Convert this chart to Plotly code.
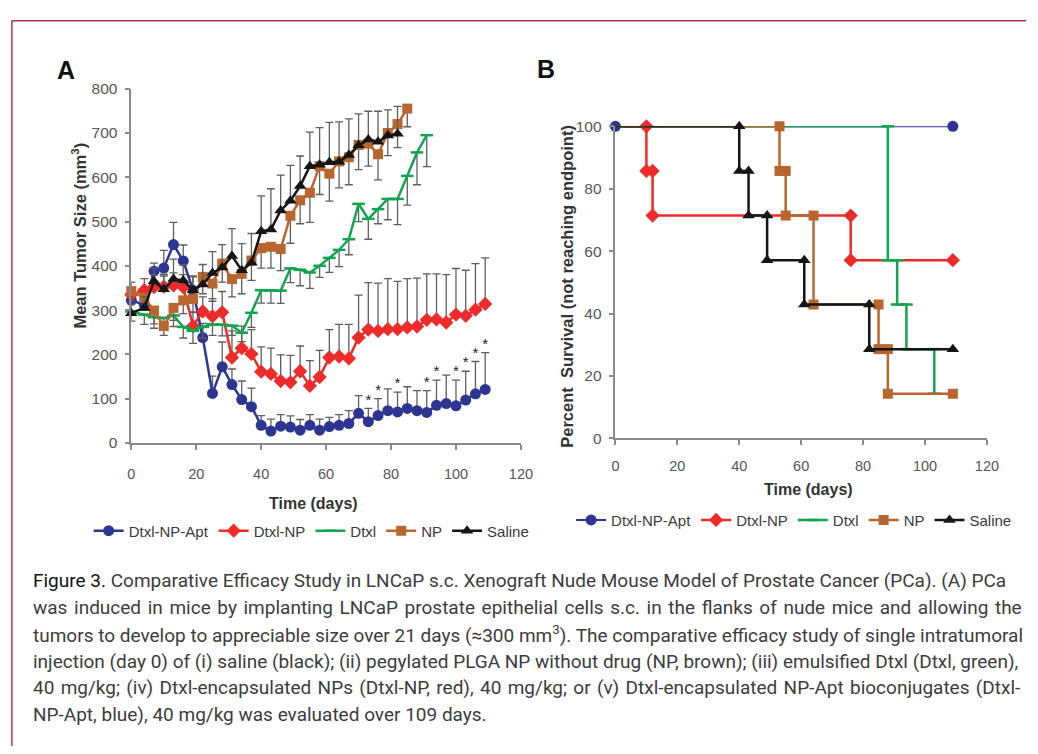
import plotly.graph_objects as go

W, H = 1038, 754

# ---------------- Panel A data (tumour size) ----------------
days = [0, 4, 7, 10, 13, 16, 19, 22, 25, 28, 31, 34, 37, 40, 43, 46, 49, 52, 55, 58,
        61, 64, 67, 70, 73, 76, 79, 82, 85, 88, 91, 94, 97, 100, 103, 106, 109]

apt_mean = [322, 312, 388, 395, 448, 411, 345, 238, 112, 172, 132, 98, 82, 40, 27, 38, 36, 29, 40, 29,
            37, 40, 44, 67, 48, 62, 73, 70, 78, 73, 69, 85, 89, 84, 97, 111, 121]
apt_err = [20, 18, 18, 40, 50, 36, 30, 32, 39, 56, 35, 42, 42, 22, 27, 26, 25, 24, 24, 25,
           21, 24, 29, 40, 30, 38, 49, 45, 49, 45, 49, 57, 64, 58, 65, 73, 83]

red_mean = [335, 345, 352, 353, 356, 352, 264, 297, 286, 295, 193, 214, 201, 161, 156, 140, 137, 162, 129, 149,
            193, 195, 191, 238, 256, 253, 257, 257, 261, 263, 278, 279, 272, 290, 287, 301, 314]
red_err = [28, 26, 28, 28, 28, 28, 32, 33, 40, 47, 60, 50, 55, 56, 58, 59, 61, 57, 57, 60,
           63, 73, 77, 96, 106, 108, 114, 108, 110, 109, 104, 103, 108, 104, 103, 104, 104]

dtxl_mean = [297, 290, 284, 282, 288, 262, 253, 262, 268, 267, 265, 249, 294, 345, 345, 344, 394, 391, 385, 400,
             418, 436, 460, 540, 506, 528, 551, 551, 603, 656, 695]
dtxl_err = [22, 22, 25, 22, 25, 25, 28, 25, 25, 25, 22, 20, 33, 29, 29, 29, 32, 36, 36, 26,
            33, 38, 35, 40, 46, 33, 47, 58, 66, 73, 71]

np_mean = [343, 328, 299, 264, 305, 322, 325, 375, 360, 405, 370, 382, 412, 440, 443, 438, 513, 548, 565, 625,
           608, 636, 645, 673, 676, 652, 700, 720, 755]
np_err = [30, 28, 30, 21, 28, 30, 30, 38, 40, 42, 40, 45, 45, 45, 48, 49, 62, 53, 67, 64,
          62, 60, 62, 56, 51, 58, 51, 53, 41]

sal_mean = [293, 305, 365, 347, 370, 367, 345, 358, 384, 396, 422, 390, 407, 478, 482, 525, 547, 580, 625, 628,
            634, 635, 650, 672, 685, 680, 694, 698]
sal_err = [28, 25, 30, 30, 45, 35, 32, 45, 48, 52, 62, 60, 66, 80, 92, 80, 80, 68, 77, 84,
           90, 90, 82, 71, 64, 69, 58, 62]

star_days = [73, 76, 82, 91, 94, 100, 103, 106, 109]

# ---------------- Panel B data (survival, %) ----------------
surv_apt_x = [0, 109]
surv_apt_y = [100, 100]
surv_red_x = [0, 10, 10, 12, 12, 76, 76, 109]
surv_red_y = [100, 100, 85.7, 85.7, 71.4, 71.4, 57.1, 57.1]
surv_dtxl_x = [0, 88, 88, 91, 91, 94, 94, 103, 103]
surv_dtxl_y = [100, 100, 57.1, 57.1, 42.9, 42.9, 28.6, 28.6, 14.3]
surv_np_x = [0, 53, 53, 55, 55, 64, 64, 85, 85, 88, 88, 109]
surv_np_y = [100, 100, 85.7, 85.7, 71.4, 71.4, 42.9, 42.9, 28.6, 28.6, 14.3, 14.3]
surv_sal_x = [0, 40, 40, 43, 43, 49, 49, 61, 61, 82, 82, 109]
surv_sal_y = [100, 100, 85.7, 85.7, 71.4, 71.4, 57.1, 57.1, 42.9, 42.9, 28.6, 28.6]

names = ["Dtxl-NP-Apt", "Dtxl-NP", "Dtxl", "NP", "Saline"]
x_ticks = [0, 20, 40, 60, 80, 100, 120]
yA_ticks = [0, 100, 200, 300, 400, 500, 600, 700, 800]
yB_ticks = [0, 20, 40, 60, 80, 100]

caption_head = "Figure 3."
caption_lines = [
    " Comparative Efficacy Study in LNCaP s.c. Xenograft Nude Mouse Model of Prostate Cancer (PCa). (A) PCa",
    "was induced in mice by implanting LNCaP prostate epithelial cells s.c. in the flanks of nude mice and allowing the",
    "tumors to develop to appreciable size over 21 days (\u2248300 mm<sup>3</sup>). The comparative efficacy study of single intratumoral",
    "injection (day 0) of (i) saline (black); (ii) pegylated PLGA NP without drug (NP, brown); (iii) emulsified Dtxl (Dtxl, green),",
    "40 mg/kg; (iv) Dtxl-encapsulated NPs (Dtxl-NP, red), 40 mg/kg; or (v) Dtxl-encapsulated NP-Apt bioconjugates (Dtxl-",
    "NP-Apt, blue), 40 mg/kg was evaluated over 109 days.",
]
# extra word spacing (px) used to justify each caption line
caption_wordspace = [0, 1.9, 0, 0, 1.6, 0]

# ---------------- styles ----------------
C_APT, C_RED, C_DTXL, C_NP, C_SAL = "#2c3592", "#ee2b2b", "#12a550", "#b9652e", "#151515"
FONT = "Arial, Liberation Sans, sans-serif"
ERRC = "#5e5e5e"

fig = go.Figure()

def err(arr_plus, arr_minus):
    return dict(type="data", symmetric=False, array=arr_plus, arrayminus=arr_minus,
                color=ERRC, thickness=1.3, width=4)

seriesA = [
    (apt_mean, apt_err, True, C_APT, dict(symbol="circle", size=11, color=C_APT)),
    (red_mean, red_err, True, C_RED, dict(symbol="diamond", size=11, color=C_RED)),
    (dtxl_mean, dtxl_err, False, C_DTXL, dict(symbol="line-ew", size=9, color=C_DTXL,
                                             line=dict(color=C_DTXL, width=2.5))),
    (np_mean, np_err, False, C_NP, dict(symbol="square", size=10, color=C_NP)),
    (sal_mean, sal_err, True, C_SAL, dict(symbol="triangle-up", size=11, color=C_SAL)),
]
for name, (m, e, up, col, mk) in zip(names, seriesA):
    n = len(m)
    zeros = [0] * n
    fig.add_trace(go.Scatter(
        x=days[:n], y=m, mode="lines+markers", name=name,
        line=dict(color=col, width=2.5), marker=mk,
        error_y=err(e, zeros) if up else err(zeros, e),
        xaxis="x", yaxis="y", legend="legend", cliponaxis=False))

star_y = [apt_mean[days.index(d)] + apt_err[days.index(d)] for d in star_days]
fig.add_trace(go.Scatter(
    x=star_days, y=star_y, mode="text", text=["*"] * len(star_days),
    textposition="top center", textfont=dict(size=15, color="#222", family=FONT),
    showlegend=False, xaxis="x", yaxis="y", cliponaxis=False))

seriesB = [
    (surv_apt_x, surv_apt_y, C_APT, dict(symbol="circle", size=11, color=C_APT)),
    (surv_red_x, surv_red_y, C_RED, dict(symbol="diamond", size=11, color=C_RED)),
    (surv_dtxl_x, surv_dtxl_y, C_DTXL, dict(symbol="line-ew", size=9, color=C_DTXL,
                                           line=dict(color=C_DTXL, width=2.5))),
    (surv_np_x, surv_np_y, C_NP, dict(symbol="square", size=10, color=C_NP)),
    (surv_sal_x, surv_sal_y, C_SAL, dict(symbol="triangle-up", size=11, color=C_SAL)),
]
for i, (name, (xs, ys, col, mk)) in enumerate(zip(names, seriesB)):
    extra = {}
    if i > 0:  # the day-0 point sits under the blue start marker: hide its marker
        extra = dict(selectedpoints=list(range(1, len(xs))),
                     selected=dict(marker=dict(opacity=1)),
                     unselected=dict(marker=dict(opacity=0)))
    fig.add_trace(go.Scatter(
        x=xs, y=ys, mode="lines+markers", name=name,
        line=dict(color=col, width=2.5 if i else 2), marker=mk,
        xaxis="x2", yaxis="y2", legend="legend2", cliponaxis=False, **extra))

axis_common = dict(showline=True, linecolor="#8a8a8a", linewidth=1.5, ticks="outside",
                   ticklen=5, tickwidth=1.5, tickcolor="#8a8a8a", showgrid=False, zeroline=False,
                   fixedrange=True)

def px_x(p):
    return p / W

def px_y(p):
    return 1 - p / H

fig.update_layout(
    width=W, height=H, autosize=False,
    margin=dict(l=0, r=0, t=0, b=0),
    paper_bgcolor="white", plot_bgcolor="white",
    font=dict(family=FONT, color="#444"),
    xaxis=dict(domain=[px_x(129.3), px_x(525)], range=[0, 120], tickvals=x_ticks, anchor="y",
               tickfont=dict(size=14.5, color="#555"), ticklabelstandoff=12, **axis_common),
    yaxis=dict(domain=[px_y(444), px_y(81.5)], range=[0, 800], tickvals=yA_ticks, anchor="x",
               tickfont=dict(size=15.5, color="#555"), ticklabelstandoff=4, **axis_common),
    xaxis2=dict(domain=[px_x(621), px_x(998.3)], range=[0, 120], tickvals=x_ticks, anchor="y2",
                tickfont=dict(size=14.5, color="#555"), ticklabelstandoff=8, **axis_common),
    yaxis2=dict(domain=[px_y(439.3), px_y(120)], range=[0, 100], tickvals=yB_ticks, anchor="x2",
                tickfont=dict(size=15.5, color="#555"), ticklabelstandoff=4, **axis_common),
    legend=dict(orientation="h", x=px_x(86), xanchor="left", y=px_y(534), yanchor="middle",
                font=dict(size=15, color="#3a3a3a", family=FONT), bgcolor="rgba(0,0,0,0)",
                itemwidth=30, traceorder="normal"),
    legend2=dict(orientation="h", x=px_x(576), xanchor="left", y=px_y(523), yanchor="middle",
                 font=dict(size=15, color="#3a3a3a", family=FONT), bgcolor="rgba(0,0,0,0)",
                 itemwidth=30, traceorder="normal"),
    showlegend=True,
)

ann = [
    dict(text="<b>A</b>", x=px_x(63), y=px_y(62), font=dict(size=25, color="#111")),
    dict(text="<b>B</b>", x=px_x(550), y=px_y(61), font=dict(size=25, color="#111")),
    dict(text="<b>Time (days)</b>", x=px_x(314), y=px_y(506), font=dict(size=16, color="#333")),
    dict(text="<b>Time (days)</b>", x=px_x(817), y=px_y(492), font=dict(size=16, color="#333")),
    dict(text="<b>Mean Tumor Size (mm<sup>3</sup>)</b>", x=px_x(76), y=px_y(232), textangle=-90,
         font=dict(size=16.5, color="#333")),
    dict(text="<b>Percent\u00a0\u00a0Survival (not reaching endpoint)</b>", x=px_x(571), y=px_y(284),
         textangle=-90, font=dict(size=16.5, color="#333")),
]
for a in ann:
    a.update(xref="paper", yref="paper", showarrow=False, xanchor="center", yanchor="middle")
    fig.add_annotation(**a)

CAP_FONT = "Liberation Sans Narrow, Arial Narrow, Roboto, sans-serif"
cap_y = [585, 612.4, 639.8, 667.2, 694.6, 722]
for k, (txt, yy, ws) in enumerate(zip(caption_lines, cap_y, caption_wordspace)):
    if ws:
        txt = "<span style='word-spacing:%.1fpx'>%s</span>" % (ws, txt)
    if k == 0:
        txt = "<span style='color:#111'>" + caption_head + "</span>" + txt
    fig.add_annotation(text=txt, xref="paper", yref="paper", x=px_x(27), y=px_y(yy),
                       xanchor="left", yanchor="middle", showarrow=False,
                       font=dict(size=19, color="#3c3c3c", family=CAP_FONT))

# frame (top and left rules)
fig.add_shape(type="line", xref="paper", yref="paper", x0=px_x(8), x1=1, y0=px_y(12), y1=px_y(12),
              line=dict(color="#b0344a", width=1.5))
fig.add_shape(type="line", xref="paper", yref="paper", x0=px_x(8), x1=px_x(8), y0=px_y(12), y1=0,
              line=dict(color="#b0344a", width=1.5))

fig.write_html("out.html", include_plotlyjs=True, config={"displayModeBar": False},
               post_script="document.body.style.margin='0px';")
